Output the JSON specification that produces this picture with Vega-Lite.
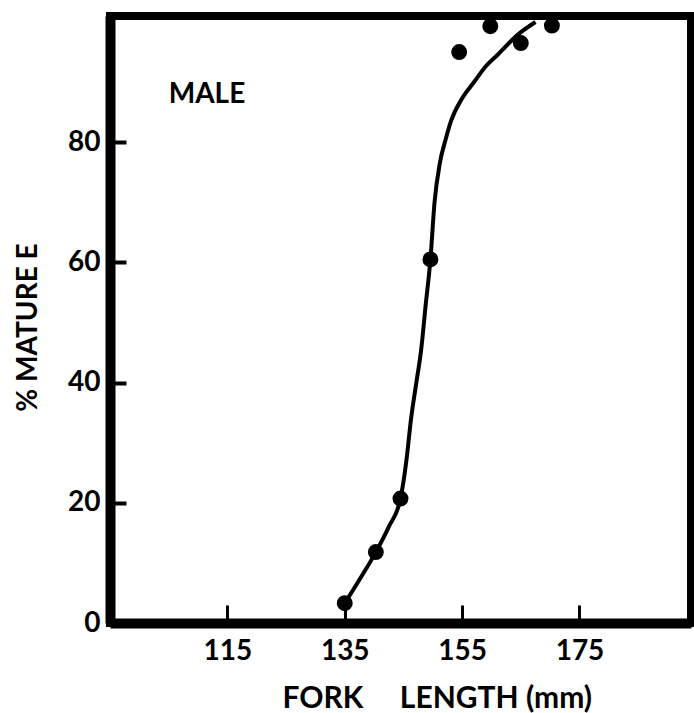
{
  "$schema": "https://vega.github.io/schema/vega-lite/v6.json",
  "width": 581,
  "height": 607,
  "autosize": {"type": "none"},
  "padding": {"left": 110, "top": 16, "right": 3, "bottom": 90},
  "background": "white",
  "config": {
    "view": {"stroke": "black", "strokeWidth": 8},
    "font": "Lato",
    "axis": {
      "grid": false,
      "domainColor": "black",
      "domainWidth": 10,
      "tickColor": "black",
      "labelColor": "black",
      "titleColor": "black",
      "labelFont": "Lato",
      "titleFont": "Lato",
      "labelFontSize": 28,
      "labelFontWeight": "bold",
      "titleFontSize": 30,
      "titleFontWeight": "bold"
    }
  },
  "datasets": {
    "points": [
      {"length": 135, "pct": 3.3},
      {"length": 140.3, "pct": 11.8},
      {"length": 144.5, "pct": 20.7},
      {"length": 149.6, "pct": 60.5},
      {"length": 154.5, "pct": 95.0},
      {"length": 159.8, "pct": 99.3},
      {"length": 165.0, "pct": 96.5},
      {"length": 170.3, "pct": 99.4}
    ],
    "curve": [
      {"length": 135, "pct": 3.3},
      {"length": 137.5, "pct": 7.2},
      {"length": 140.3, "pct": 11.8},
      {"length": 142.5, "pct": 16},
      {"length": 144.5, "pct": 20.7},
      {"length": 145.5, "pct": 27},
      {"length": 146.3, "pct": 34},
      {"length": 147.2, "pct": 40},
      {"length": 148, "pct": 45.3},
      {"length": 148.8, "pct": 53},
      {"length": 149.6, "pct": 60.5},
      {"length": 150.3, "pct": 70},
      {"length": 151.2, "pct": 76.5},
      {"length": 152.2, "pct": 80.5},
      {"length": 153.1, "pct": 83.5},
      {"length": 155, "pct": 87.3},
      {"length": 157.1, "pct": 90.1},
      {"length": 159, "pct": 92.6},
      {"length": 161.1, "pct": 94.6},
      {"length": 164.5, "pct": 97.9},
      {"length": 167.5, "pct": 100}
    ],
    "labels": [{"length": 105, "pct": 86.5, "label": "MALE"}]
  },
  "encoding": {
    "x": {
      "field": "length",
      "type": "quantitative",
      "scale": {"domain": [95, 194], "nice": false, "zero": false},
      "axis": {
        "values": [115, 135, 155, 175],
        "tickSize": -18,
        "tickWidth": 3,
        "labelPadding": 32,
        "title": "FORK\u00a0\u00a0\u00a0\u00a0\u00a0LENGTH (mm)",
        "titleAnchor": "start",
        "titleAlign": "left",
        "titleX": 172,
        "titleY": 84,
        "titleBaseline": "alphabetic"
      }
    },
    "y": {
      "field": "pct",
      "type": "quantitative",
      "scale": {"domain": [0, 101], "nice": false},
      "axis": {
        "values": [0, 20, 40, 60, 80],
        "tickSize": -16,
        "tickWidth": 4,
        "labelPadding": 26,
        "title": "% MATURE E",
        "titleAngle": 270,
        "titleAlign": "center",
        "titleBaseline": "middle",
        "titleFontSize": 28,
        "titleX": -82,
        "titleY": 311
      }
    }
  },
  "layer": [
    {
      "data": {"name": "curve"},
      "mark": {"type": "line", "interpolate": "monotone", "color": "black", "strokeWidth": 4}
    },
    {
      "data": {"name": "points"},
      "mark": {"type": "circle", "size": 254, "color": "black", "opacity": 1}
    },
    {
      "data": {"name": "labels"},
      "mark": {"type": "text", "align": "left", "baseline": "alphabetic", "fontSize": 28, "fontWeight": "bold", "font": "Lato", "color": "black"},
      "encoding": {"text": {"field": "label"}}
    }
  ]
}
